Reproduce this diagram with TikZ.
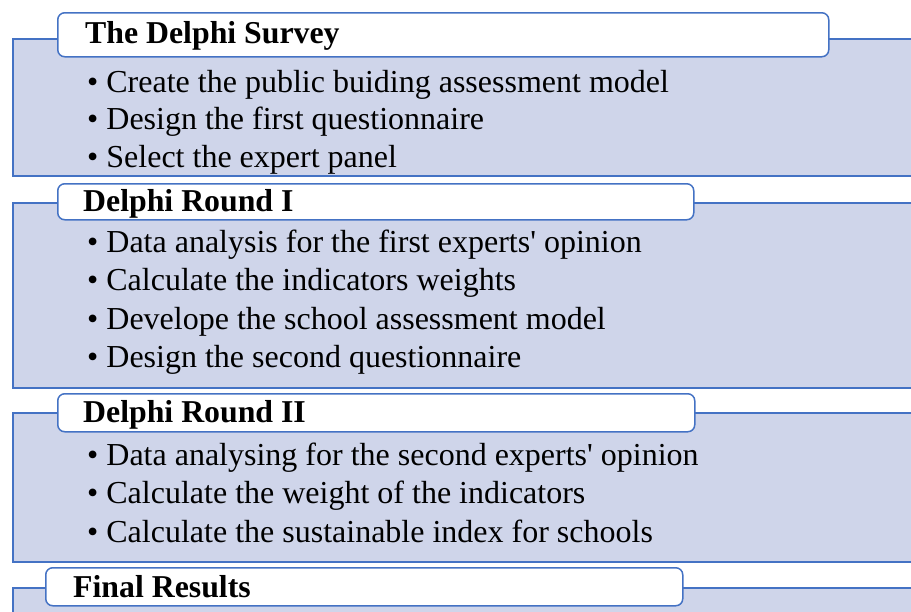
\documentclass[tikz,border=0pt]{standalone}
\usepackage{fontspec}
\setmainfont{Liberation Serif}
\usepackage{tikz}
\usetikzlibrary{positioning}
\definecolor{dblue}{RGB}{68,114,196}
\definecolor{dpanel}{RGB}{207,213,234}
\tikzset{
panel/.style = {draw=dblue, fill=dpanel, line width=1.5pt, anchor=north west, inner sep=0pt},
headbox/.style = {draw=dblue, fill=white, line width=1.5pt, rounded corners=7pt, anchor=north west, inner sep=0pt},
headtext/.style = {anchor=base west, inner sep=0pt, font=\fontsize{31.8}{38}\selectfont\bfseries},
item/.style = {anchor=base west, inner sep=0pt, font=\fontsize{32}{38}\selectfont}
}

\begin{document}
\begin{tikzpicture}[x=1pt, y=-1pt]
    \clip (0,0) rectangle (911,611);
    % panels
    \node [panel, minimum width=910pt, minimum height=137pt] (sec1) at (12,38) {};
    \node [panel, minimum width=910pt, minimum height=185pt] (sec2) at (12,202) {};
    \node [panel, minimum width=910pt, minimum height=149pt] (sec3) at (12,412) {};
    \node [panel, minimum width=910pt, minimum height=60pt] (sec4) at (12,587) {};
    % headings
    \node [headbox, minimum width=771pt, minimum height=44pt] (head1) at (57,12) {};
    \node [headbox, minimum width=636pt, minimum height=36pt] (head2) at (57,183) {};
    \node [headbox, minimum width=637pt, minimum height=38pt] (head3) at (57,393) {};
    \node [headbox, minimum width=637pt, minimum height=38pt] (head4) at (45,567) {};
    \node [headtext] (t1) at (85,43) {The Delphi Survey};
    \node [headtext] (t2) at (83,211) {Delphi Round I};
    \node [headtext] (t3) at (83,422) {Delphi Round II};
    \node [headtext] (t4) at (73,597) {Final Results};
    % items
    \node [item] (s1a) at (87,92) {\textbullet\ Create the public buiding assessment model};
    \node [item] (s1b) at (87,129.5) {\textbullet\ Design the first questionnaire};
    \node [item] (s1c) at (87,167) {\textbullet\ Select the expert panel};
    \node [item] (s2a) at (87,252) {\textbullet\ Data analysis for the first experts\textquotesingle\ opinion};
    \node [item] (s2b) at (87,290) {\textbullet\ Calculate the indicators weights};
    \node [item] (s2c) at (87,329) {\textbullet\ Develope the school assessment model};
    \node [item] (s2d) at (87,367) {\textbullet\ Design the second questionnaire};
    \node [item] (s3a) at (87,465) {\textbullet\ Data analysing for the second experts\textquotesingle\ opinion};
    \node [item] (s3b) at (87,503) {\textbullet\ Calculate the weight of the indicators};
    \node [item] (s3c) at (87,542) {\textbullet\ Calculate the sustainable index for schools};
\end{tikzpicture}
\end{document}
